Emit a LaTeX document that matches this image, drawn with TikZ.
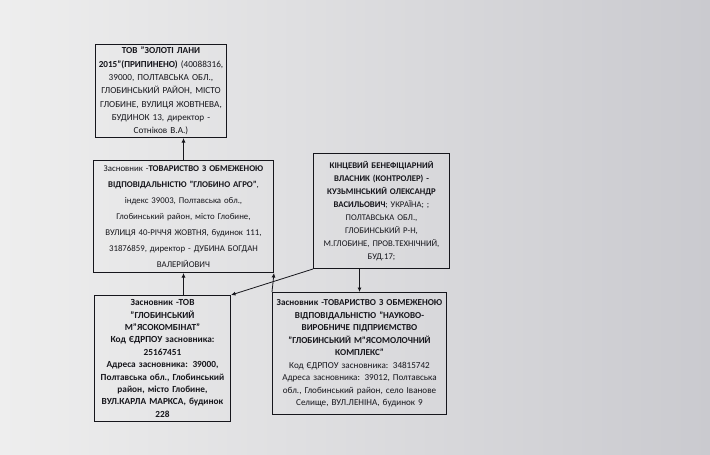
\documentclass[tikz,border=0pt]{standalone}
\usepackage{fontspec}
\setmainfont{Carlito}
\usetikzlibrary{arrows.meta}
\definecolor{ink}{RGB}{22,22,28}
\definecolor{paperL}{RGB}{238,238,238}
\definecolor{paperR}{RGB}{202,202,207}
\tikzset{
  box/.style={draw=ink, line width=1pt, anchor=north west, align=center, inner sep=2pt, text=ink},
  arr/.style={draw=ink, line width=0.8pt, -{Latex[length=4.5pt,width=4pt]}}
}
\begin{document}
\begin{tikzpicture}[x=1pt,y=1pt]
\shade[left color=paperL, right color=paperR] (0,0) rectangle (710,-455);
\useasboundingbox (0,0) rectangle (710,-455);

\node[box, minimum width=129pt, minimum height=93pt, text width=127pt,
  font=\fontsize{9.2}{13.3}\selectfont] (b1) at (95,-44)
 {\textbf{ТОВ "ЗОЛОТІ ЛАНИ}\\
  \textbf{2015"(ПРИПИНЕНО)} (40088316,\\
  39000, ПОЛТАВСЬКА ОБЛ.,\\
  ГЛОБИНСЬКИЙ РАЙОН, МІСТО\\
  ГЛОБИНЕ, ВУЛИЦЯ ЖОВТНЕВА,\\
  БУДИНОК 13, директор -\\
  Сотніков В.А.)};

\node[box, minimum width=178pt, minimum height=112pt, text width=176pt,
  font=\fontsize{8.8}{16}\selectfont] (b2) at (93,-160)
 {Засновник -\textbf{ТОВАРИСТВО З ОБМЕЖЕНОЮ}\\
  \textbf{ВІДПОВІДАЛЬНІСТЮ "ГЛОБИНО АГРО"},\\
  індекс 39003, Полтавська обл.,\\
  Глобинський район, місто Глобине,\\
  ВУЛИЦЯ 40-РІЧЧЯ ЖОВТНЯ, будинок 111,\\
  31876859, директор - ДУБИНА БОГДАН\\
  ВАЛЕРІЙОВИЧ};

\node[box, minimum width=134pt, minimum height=115pt, text width=132pt,
  font=\fontsize{8.7}{13.1}\selectfont] (b3) at (313,-153)
 {\textbf{КІНЦЕВИЙ БЕНЕФІЦІАРНИЙ}\\
  \textbf{ВЛАСНИК (КОНТРОЛЕР) -}\\
  \textbf{КУЗЬМІНСЬКИЙ ОЛЕКСАНДР}\\
  \textbf{ВАСИЛЬОВИЧ}; УКРАЇНА; ;\\
  ПОЛТАВСЬКА ОБЛ.,\\
  ГЛОБИНСЬКИЙ Р-Н,\\
  М.ГЛОБИНЕ, ПРОВ.ТЕХНІЧНИЙ,\\
  БУД.17;};

\node[box, minimum width=134pt, minimum height=126pt, text width=132pt,
  font=\fontsize{9.3}{12.4}\selectfont\bfseries] (b4) at (94,-295)
 {Засновник -ТОВ\\
  "ГЛОБИНСЬКИЙ\\
  М"ЯСОКОМБІНАТ"\\
  Код ЄДРПОУ засновника:\\
  25167451\\
  Адреса засновника: 39000,\\
  Полтавська обл., Глобинський\\
  район, місто Глобине,\\
  ВУЛ.КАРЛА МАРКСА, будинок\\
  228};

\node[box, minimum width=172pt, minimum height=122pt, text width=170pt,
  font=\fontsize{9.1}{12.5}\selectfont] (b5) at (272,-292)
 {\textbf{Засновник -ТОВАРИСТВО З ОБМЕЖЕНОЮ}\\
  \textbf{ВІДПОВІДАЛЬНІСТЮ "НАУКОВО-}\\
  \textbf{ВИРОБНИЧЕ ПІДПРИЄМСТВО}\\
  \textbf{"ГЛОБИНСЬКИЙ М"ЯСОМОЛОЧНИЙ}\\
  \textbf{КОМПЛЕКС"}\\
  Код ЄДРПОУ засновника: 34815742\\
  Адреса засновника: 39012, Полтавська\\
  обл., Глобинський район, село Іванове\\
  Селище, ВУЛ.ЛЕНІНА, будинок 9};

\draw[arr] (b2.north) -- (b2.north |- b1.south);
\draw[arr] (b2.south |- b4.north) -- (b2.south);
\draw[arr] (b5.north west) -- (b2.south east);
\draw[arr] (b3.south west) -- (b4.north east);
\draw[arr] (b5.north |- b3.south) -- (b5.north);
\end{tikzpicture}
\end{document}
